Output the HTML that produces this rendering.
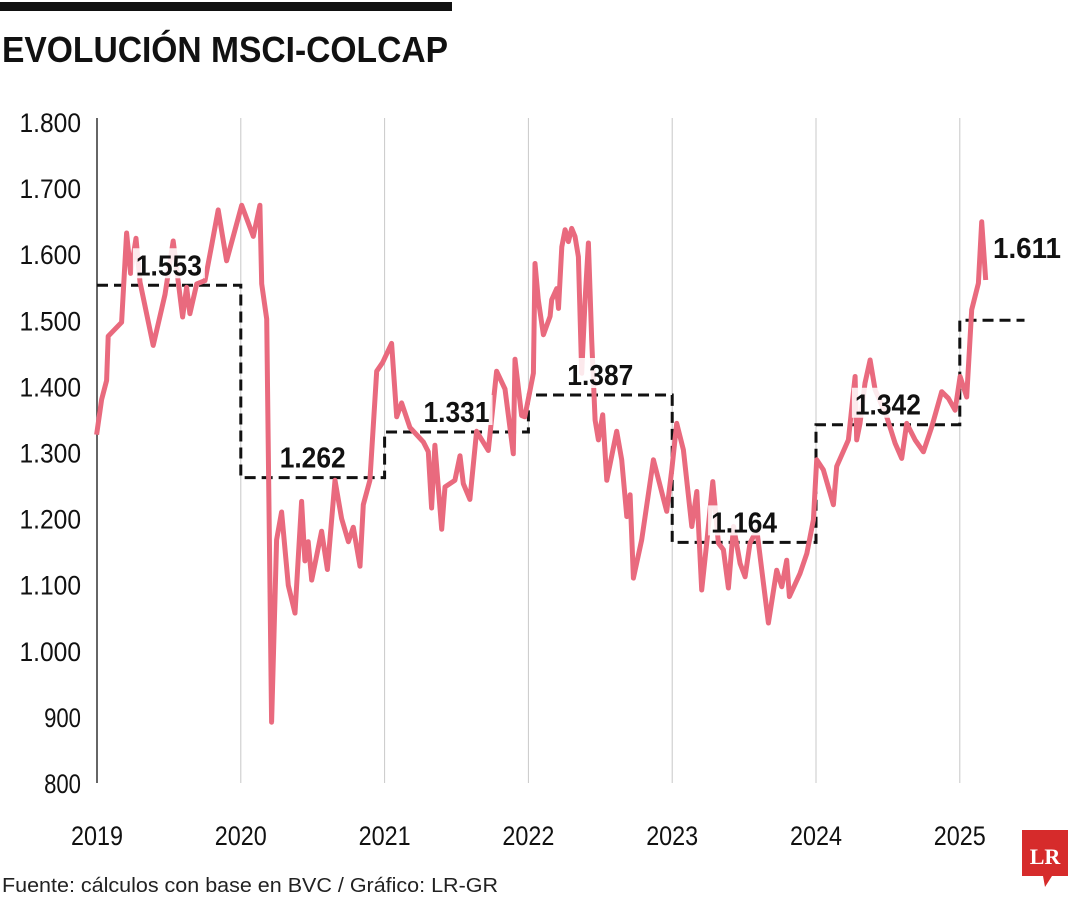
<!DOCTYPE html>
<html><head><meta charset="utf-8"><style>
html,body{margin:0;padding:0;background:#fff;}
svg{display:block;font-family:"Liberation Sans",sans-serif;}
</style></head><body>
<svg id="chart" width="1080" height="900" viewBox="0 0 1080 900">
<rect x="0" y="2" width="452" height="9" fill="#111"/>
<text x="2" y="62" font-size="36" font-weight="bold" fill="#111" textLength="446" lengthAdjust="spacingAndGlyphs">EVOLUCIÓN MSCI-COLCAP</text>
<g id="grid"></g><g id="yticks"></g><g id="xticks"></g><g id="avg"></g><g id="series"></g><g id="labels"></g>
<text x="2" y="892" font-size="20" fill="#222" textLength="496" lengthAdjust="spacingAndGlyphs">Fuente: cálculos con base en BVC / Gráfico: LR-GR</text>
<g>
<path d="M1022 830 H1068 V876 H1052 L1045 887 L1043 876 H1022 Z" fill="#d62b2b"/>
<text x="1045" y="864" font-size="22" font-weight="bold" fill="#fff" text-anchor="middle" font-family="Liberation Serif,serif">LR</text>
</g>
</svg>
<script>
const years=[2019,2020,2021,2022,2023,2024,2025];
const yTicks=[800,900,1000,1100,1200,1300,1400,1500,1600,1700,1800];
const yTickLabels=["800","900","1.000","1.100","1.200","1.300","1.400","1.500","1.600","1.700","1.800"];
const avgStarts=[2019,2020,2021,2022,2023,2024,2025];
const avgEnds=[2020,2021,2022,2023,2024,2025,2025.45];
const avgValues=[1553,1262,1331,1387,1164,1342,1500];
const avgLabels=["1.553","1.262","1.331","1.387","1.164","1.342",""];
const lastLabel="1.611";
const times=[2018.997,2019.032,2019.067,2019.078,2019.171,2019.206,2019.234,2019.271,2019.299,2019.391,2019.473,2019.530,2019.595,2019.623,2019.646,2019.693,2019.751,2019.797,2019.843,2019.901,2020.006,2020.087,2020.133,2020.145,2020.180,2020.214,2020.249,2020.284,2020.330,2020.377,2020.423,2020.446,2020.469,2020.493,2020.562,2020.602,2020.655,2020.701,2020.748,2020.782,2020.829,2020.852,2020.898,2020.945,2020.986,2021.049,2021.084,2021.118,2021.176,2021.269,2021.304,2021.327,2021.350,2021.397,2021.420,2021.489,2021.524,2021.547,2021.593,2021.640,2021.721,2021.779,2021.837,2021.895,2021.907,2021.953,2021.975,2022.035,2022.046,2022.069,2022.104,2022.151,2022.162,2022.197,2022.209,2022.232,2022.255,2022.278,2022.301,2022.324,2022.348,2022.371,2022.394,2022.417,2022.440,2022.464,2022.487,2022.517,2022.545,2022.614,2022.649,2022.684,2022.707,2022.730,2022.788,2022.869,2022.962,2022.997,2023.031,2023.078,2023.136,2023.171,2023.205,2023.240,2023.282,2023.321,2023.356,2023.391,2023.426,2023.472,2023.507,2023.541,2023.588,2023.623,2023.669,2023.727,2023.762,2023.796,2023.815,2023.889,2023.936,2023.982,2024.005,2024.051,2024.121,2024.144,2024.225,2024.272,2024.283,2024.306,2024.341,2024.376,2024.411,2024.492,2024.550,2024.596,2024.631,2024.689,2024.747,2024.805,2024.874,2024.921,2024.967,2025.002,2025.048,2025.083,2025.129,2025.152,2025.180];
const values=[1327,1380,1409,1476,1497,1632,1571,1624,1558,1462,1539,1620,1505,1550,1510,1555,1560,1613,1667,1590,1674,1627,1674,1555,1502,892,1168,1210,1099,1057,1226,1136,1165,1107,1181,1123,1258,1200,1165,1187,1128,1221,1258,1423,1436,1465,1354,1375,1338,1316,1301,1216,1311,1184,1248,1258,1295,1253,1229,1332,1303,1423,1396,1298,1441,1356,1354,1420,1586,1531,1478,1506,1531,1548,1518,1611,1637,1619,1639,1627,1596,1420,1531,1617,1470,1349,1319,1357,1258,1332,1289,1203,1236,1110,1168,1289,1211,1274,1344,1304,1188,1241,1092,1163,1256,1163,1153,1095,1188,1132,1112,1163,1183,1122,1042,1122,1097,1137,1082,1117,1147,1198,1289,1274,1221,1279,1319,1415,1319,1344,1405,1440,1395,1354,1314,1291,1344,1319,1301,1339,1392,1382,1364,1415,1384,1516,1556,1649,1561];

const NS="http://www.w3.org/2000/svg";
const X=t=>97+(t-2019)*143.8;
const Y=v=>122+(1800-v)*0.661;
function mk(tag,attrs,parent,txt){const e=document.createElementNS(NS,tag);for(const k in attrs)e.setAttribute(k,attrs[k]);if(txt!==undefined)e.textContent=txt;document.getElementById(parent).appendChild(e);return e;}

years.forEach((yr,i)=>{
  const g=mk('line',{x1:X(yr),x2:X(yr),y1:118,y2:Y(800),stroke:i===0?'#333':'#c8c8c8','stroke-width':i===0?1.5:1},'grid');
  
  
  const t=mk('text',{x:X(yr),y:845,'font-size':27,'text-anchor':'middle',fill:'#111',textLength:52,lengthAdjust:'spacingAndGlyphs'},'xticks',String(yr));
  
  
});
yTicks.forEach((v,i)=>{
  const lab=yTickLabels[i];
  const t=mk('text',{x:81,y:Y(v)+10,'font-size':27,'text-anchor':'end',fill:'#111',textLength:lab.length*12.3,lengthAdjust:'spacingAndGlyphs'},'yticks',lab);
  
  
});
let d='';
avgValues.forEach((v,i)=>{
  if(i===0)d+='M'+X(avgStarts[i])+' '+Y(v);
  else d+=' V'+Y(v);
  d+=' H'+X(avgEnds[i]);
});
const ap=mk('path',{d:d,fill:'none',stroke:'#111','stroke-width':3,'stroke-dasharray':'11 6'},'avg');



const pts=times.map((t,i)=>X(t).toFixed(1)+','+Y(values[i]).toFixed(1)).join(' ');
const sl=mk('polyline',{points:pts,fill:'none',stroke:'#e96a7e','stroke-width':5,'stroke-linejoin':'round'},'series');



avgLabels.forEach((lab,i)=>{
  if(!lab)return;
  const cx=(X(avgStarts[i])+X(avgEnds[i]))/2;
  const y=Y(avgValues[i])-10;
  const bg=mk('rect',{x:cx-36,y:y-27,width:72,height:30,fill:'#fff','fill-opacity':0.85},'labels');
  
  
  const t=mk('text',{x:cx,y:y,'font-size':29,'font-weight':'bold','text-anchor':'middle',fill:'#111',textLength:66,lengthAdjust:'spacingAndGlyphs'},'labels',lab);
  
  
});
const ll=mk('text',{x:993,y:258,'font-size':29,'font-weight':'bold',fill:'#111',textLength:68,lengthAdjust:'spacingAndGlyphs'},'labels',lastLabel);


</script>
</body></html>
